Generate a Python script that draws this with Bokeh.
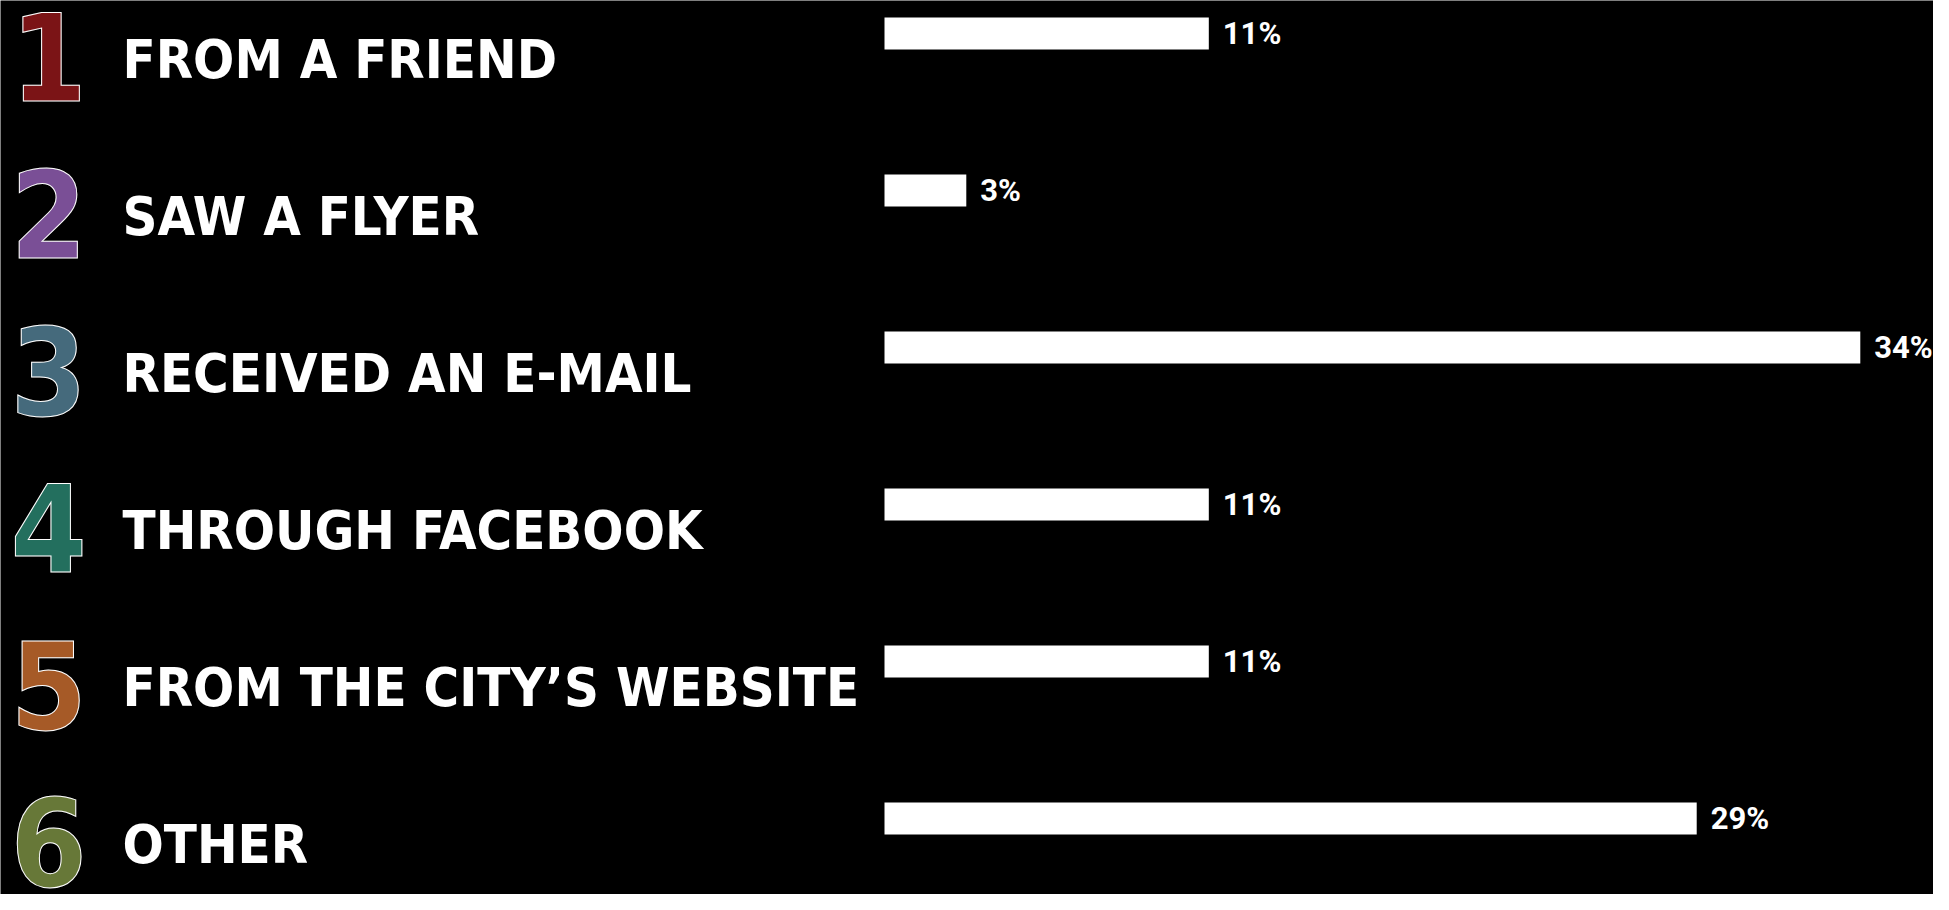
from bokeh.plotting import figure
from bokeh.models import ColumnDataSource, Range1d
from bokeh.core.properties import value
from bokeh.embed import file_html
from bokeh.resources import INLINE

# ---- data ----
numbers = ["1", "2", "3", "4", "5", "6"]
categories = ["FROM A FRIEND", "SAW A FLYER", "RECEIVED AN E-MAIL",
              "THROUGH FACEBOOK", "FROM THE CITY\u2019S WEBSITE", "OTHER"]
values = [11.3, 2.85, 34.0, 11.3, 11.3, 28.3]          # bar lengths (%)
value_labels = ["11%", "3%", "34%", "11%", "11%", "29%"]
number_colors = ["#7b1416", "#7a4f96", "#456a7c", "#236f5e", "#a65a27", "#677838"]

rows = list(range(len(categories)))

# ---- layout (pixels) ----
W, H = 1933, 894
PX_PER_UNIT = 28.7      # px per percent
ROW_PX = 157.0          # px per row
bar_zero_px = 884.0     # frame x of 0%
first_row_px = 33.0     # frame y of first bar centre

x0 = -bar_zero_px / PX_PER_UNIT
x1 = x0 + W / PX_PER_UNIT
y_top = -first_row_px / ROW_PX
y_bot = y_top + H / ROW_PX

def px_x(px):
    return x0 + px / PX_PER_UNIT

LABEL_FONT = value("DejaVu Sans Condensed, DejaVu Sans, sans-serif")
PCT_FONT = value("Roboto, sans-serif")

p = figure(width=W, height=H, output_backend="svg", toolbar_location=None,
           x_range=Range1d(x0, x1), y_range=Range1d(y_bot, y_top),
           min_border=0, min_border_left=0, min_border_right=0,
           min_border_top=0, min_border_bottom=0)
p.background_fill_color = "black"
p.border_fill_color = "black"
p.outline_line_color = None
p.axis.visible = False
p.grid.visible = False

src = ColumnDataSource(dict(
    y=rows,
    v=values,
    lab=value_labels,
    lab_x=[v + 14.0 / PX_PER_UNIT for v in values],
    lab_y=[r + 0.0 / ROW_PX for r in rows],
    cat=categories,
    cat_x=[px_x(122.0)] * len(rows),
    cat_y=[r + 25.5 / ROW_PX for r in rows],
    num=numbers,
    num_x=[px_x(10.0)] * len(rows),
    num_y=[r + 22.6 / ROW_PX for r in rows],
    col=number_colors,
))

p.hbar(y="y", left=0, right="v", height=32.0 / ROW_PX, source=src,
       fill_color="white", line_color=None)

p.text(x="lab_x", y="lab_y", text="lab", source=src,
       text_font=PCT_FONT, text_font_style="bold",
       text_font_size="31px", text_color="white",
       text_align="left", text_baseline="alphabetic")

p.text(x="cat_x", y="cat_y", text="cat", source=src,
       text_font=LABEL_FONT, text_font_style="bold",
       text_font_size="54px", text_color="white",
       text_align="left", text_baseline="alphabetic")

p.text(x="num_x", y="num_y", text="num", source=src,
       text_font=LABEL_FONT, text_font_style="bold",
       text_font_size="122px", text_color="col",
       text_outline_color="white",
       text_align="left", text_baseline="alphabetic")

open("out.html", "w").write(file_html(p, INLINE))
